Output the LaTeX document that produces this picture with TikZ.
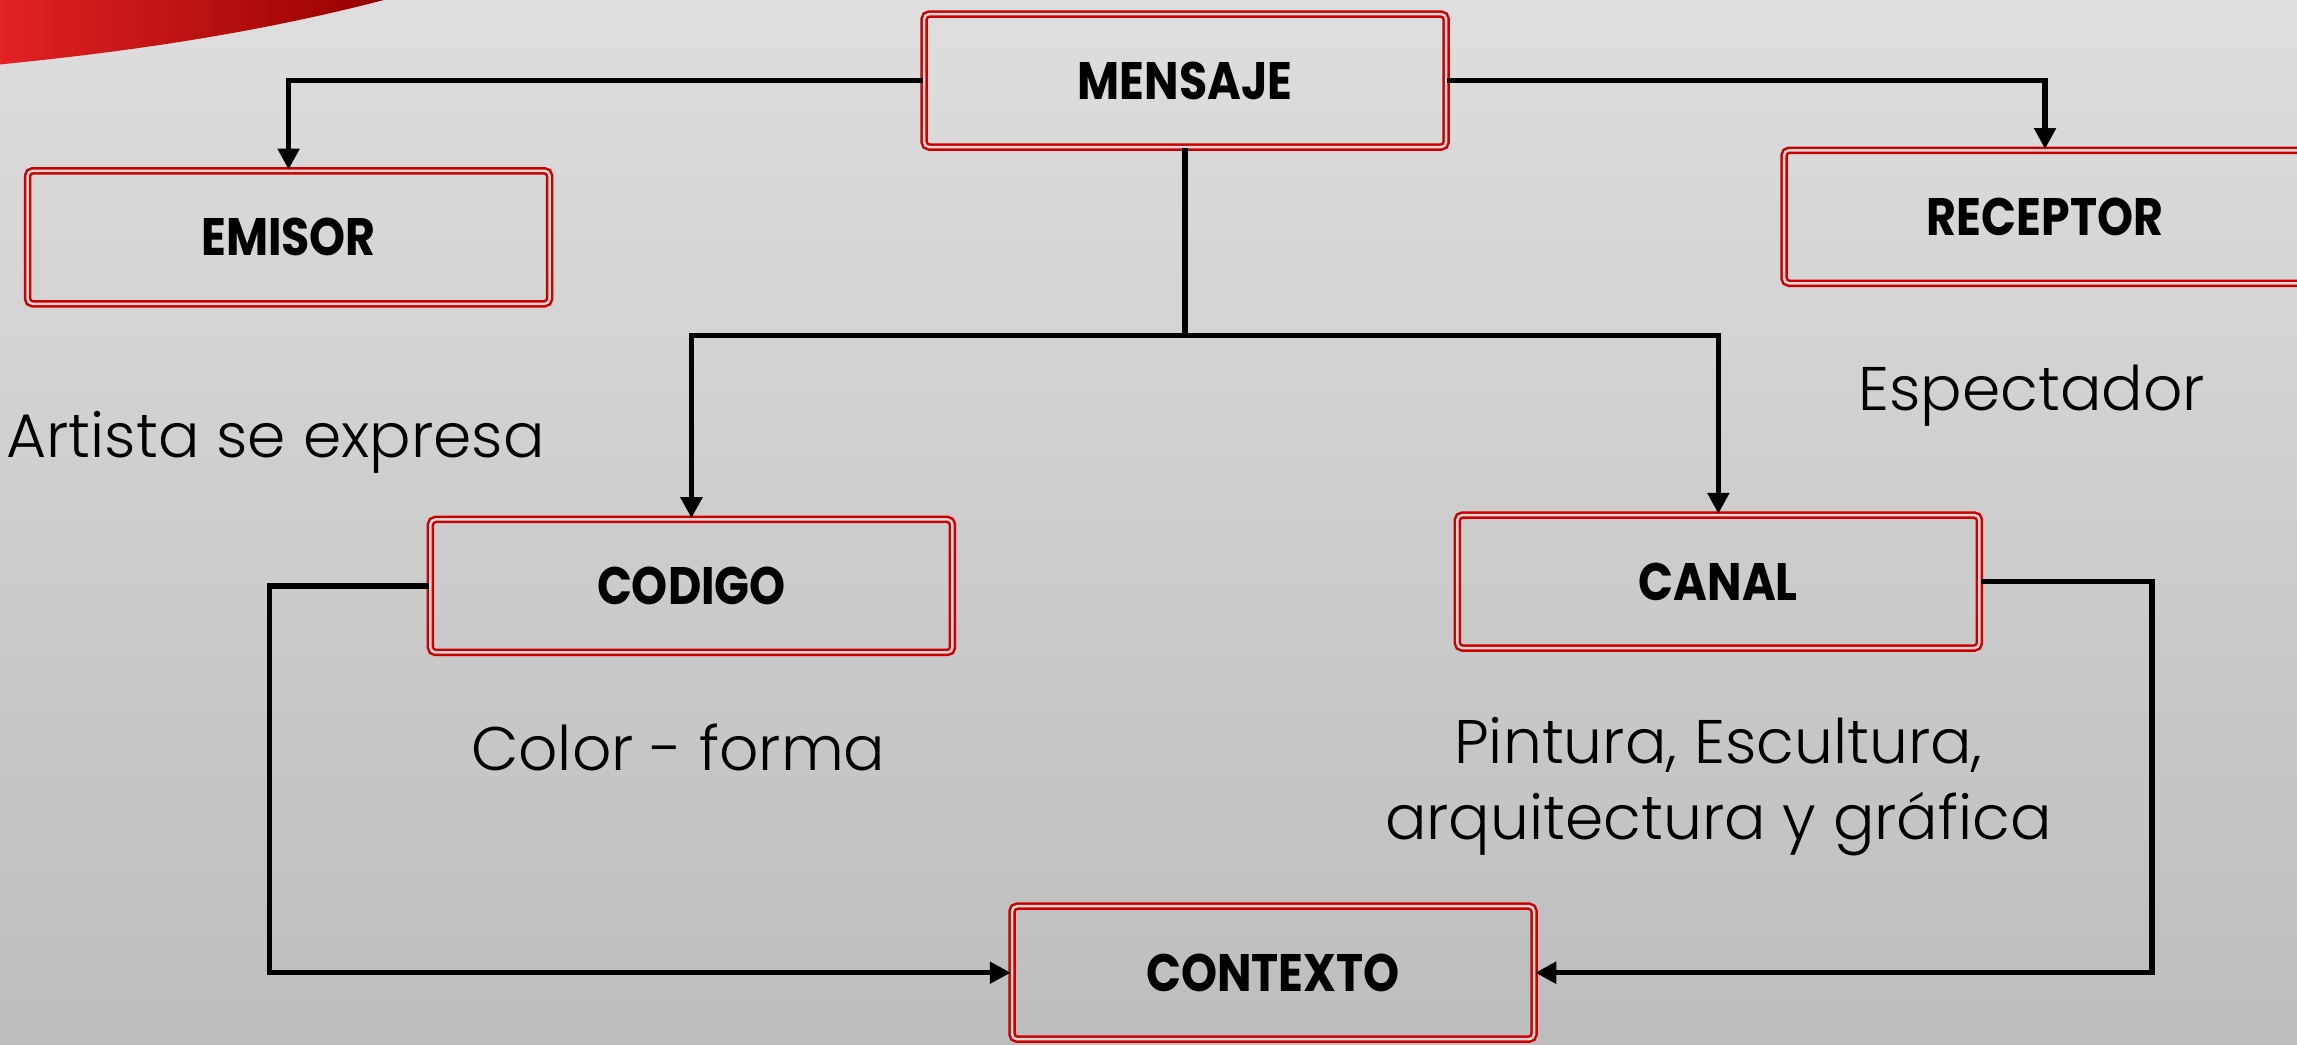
\documentclass[tikz,border=0pt]{standalone}
\usepackage{fontspec}
\usepackage{graphicx}
\setmainfont{Poppins}
\newfontfamily\lightfont{Poppins Light}
\usetikzlibrary{arrows.meta,shadings}
\definecolor{bgtop}{RGB}{222,222,222}
\definecolor{bgbot}{RGB}{189,189,189}
\definecolor{boxred}{RGB}{205,0,0}
\definecolor{gapgrey}{RGB}{222,214,214}
\definecolor{swooshA}{RGB}{225,35,35}
\definecolor{swooshB}{RGB}{150,0,0}
\tikzset{
  box/.style={draw=boxred, double=gapgrey, double distance=0.25mm, line width=0.25mm,
    rounded corners=0.5mm, minimum width=5.22cm, minimum height=1.33cm, inner sep=0pt,
    font=\fontsize{15}{18}\selectfont\bfseries},
  conn/.style={draw=black, line width=0.55mm, -{Triangle[width=2.1mm,length=2.1mm]}},
  plain/.style={draw=black, line width=0.55mm},
  body/.style={font=\lightfont\fontsize{17.5}{21.6}\selectfont, inner sep=0pt, text=black}
}
\newcommand\lbl[1]{\scalebox{0.87}[1]{#1}}
\begin{document}
\begin{tikzpicture}[x=0.01465cm,y=-0.01465cm]
\clip (0,0) rectangle (1568,713);
\shade[top color=bgtop, bottom color=bgbot] (0,0) rectangle (1568,713);
% decorative swoosh
\shade[left color=swooshA, right color=swooshB] (0,0) -- (262,0) .. controls (170,24) and (80,36) .. (0,44) -- cycle;
% boxes
\node[box] (mensaje)  at (809,55)  {\lbl{MENSAJE}};
\node[box] (emisor)   at (197,162) {\lbl{EMISOR}};
\node[box] (receptor) at (1396,148) {\lbl{RECEPTOR}};
\node[box] (codigo)   at (472,400) {\lbl{CODIGO}};
\node[box] (canal)    at (1173,397) {\lbl{CANAL}};
\node[box] (contexto) at (869,664) {\lbl{CONTEXTO}};
% texts
\node[body, anchor=base west] (t1) at (4,312) {Artista se expresa};
\node[body, anchor=base] (t2) at (1387,280) {Espectador};
\node[body, anchor=base] (t3) at (463,526) {Color - forma};
\node[body, anchor=base, align=center] (t4) at (1173,573) {Pintura, Escultura,\\arquitectura y gráfica};
% connectors
\coordinate (j) at (809,229);
\draw[conn] (mensaje.west) -| (emisor.north);
\draw[conn] (mensaje.east) -| (receptor.north);
\draw[plain] (mensaje.south) -- (j);
\draw[conn] (j) -| (codigo.north);
\draw[conn] (j) -| (canal.north);
\draw[conn] (codigo.west) -- ++(-109,0) |- (contexto.west);
\draw[conn] (canal.east) -- ++(117,0) |- (contexto.east);
\end{tikzpicture}
\end{document}
